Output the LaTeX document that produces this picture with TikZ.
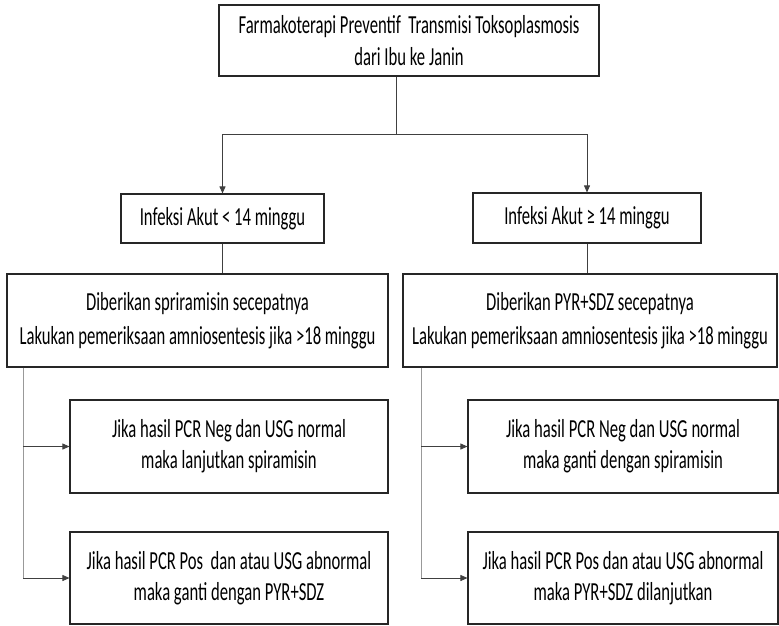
\documentclass[tikz,border=0pt]{standalone}
\usepackage{fontspec}
\setmainfont[FakeStretch=0.64]{Carlito}
\usetikzlibrary{arrows.meta}

\begin{document}
\begin{tikzpicture}[x=1pt, y=-1pt,
		kotak/.style={draw=black!85, line width=1.1pt, align=center, inner sep=0pt, font=\fontsize{26}{32}\selectfont},
		garis/.style={draw=black!75, line width=0.8pt},
		batang/.style={draw=black!40, line width=1pt},
		panah/.style={garis, -{Triangle[length=7pt, width=6pt]}}]
		\useasboundingbox (0,0) rectangle (779,625);
		\node[kotak, minimum width=380pt, minimum height=71pt] (judul) at (409,40.5) {Farmakoterapi Preventif\ \ Transmisi Toksoplasmosis\\dari Ibu ke Janin};
		\node[kotak, minimum width=203pt, minimum height=49pt] (akut1) at (222.5,218.5) {Infeksi Akut < 14 minggu};
		\node[kotak, minimum width=228pt, minimum height=50pt] (akut2) at (587,218) {Infeksi Akut ≥ 14 minggu};
		\node[kotak, minimum width=381pt, minimum height=93pt, font=\fontsize{26}{34}\selectfont] (beri1) at (197.5,320.5) {Diberikan spriramisin secepatnya\\Lakukan pemeriksaan amniosentesis jika >18 minggu};
		\node[kotak, minimum width=374pt, minimum height=93pt, font=\fontsize{26}{34}\selectfont] (beri2) at (590,320.5) {Diberikan PYR+SDZ secepatnya\\Lakukan pemeriksaan amniosentesis jika >18 minggu};
		\node[kotak, minimum width=318pt, minimum height=93pt, font=\fontsize{26}{31}\selectfont] (hasil1a) at (229,446.5) {Jika hasil PCR Neg dan USG normal\\maka lanjutkan spiramisin};
		\node[kotak, minimum width=318pt, minimum height=92pt, font=\fontsize{26}{31}\selectfont] (hasil1b) at (229,578) {Jika hasil PCR Pos\ \ dan atau USG abnormal\\maka ganti dengan PYR+SDZ};
		\node[kotak, minimum width=310pt, minimum height=93pt, font=\fontsize{26}{31}\selectfont] (hasil2a) at (623,446.5) {Jika hasil PCR Neg dan USG normal\\maka ganti dengan spiramisin};
		\node[kotak, minimum width=310pt, minimum height=92pt, font=\fontsize{26}{31}\selectfont] (hasil2b) at (623,578) {Jika hasil PCR Pos dan atau USG abnormal\\maka PYR+SDZ dilanjutkan};
		\coordinate (pisah) at (396,134);
		\coordinate (cabang1) at ([xshift=17pt]beri1.south west);
		\coordinate (cabang2) at ([xshift=19pt]beri2.south west);
		\draw[garis] (judul.south -| pisah) -- (pisah);
		\draw[panah] (pisah) -| (akut1.north);
		\draw[panah] (pisah) -| (akut2.north);
		\draw[garis] (akut1.south) -- (beri1.north -| akut1.south);
		\draw[garis] (akut2.south) -- (beri2.north -| akut2.south);
		\draw[batang] (cabang1) -- (cabang1 |- hasil1b.west);
		\draw[panah] (cabang1 |- hasil1a.west) -- (hasil1a.west);
		\draw[panah] (cabang1 |- hasil1b.west) -- (hasil1b.west);
		\draw[batang] (cabang2) -- (cabang2 |- hasil2b.west);
		\draw[panah] (cabang2 |- hasil2a.west) -- (hasil2a.west);
		\draw[panah] (cabang2 |- hasil2b.west) -- (hasil2b.west);
	\end{tikzpicture}
\end{document}
